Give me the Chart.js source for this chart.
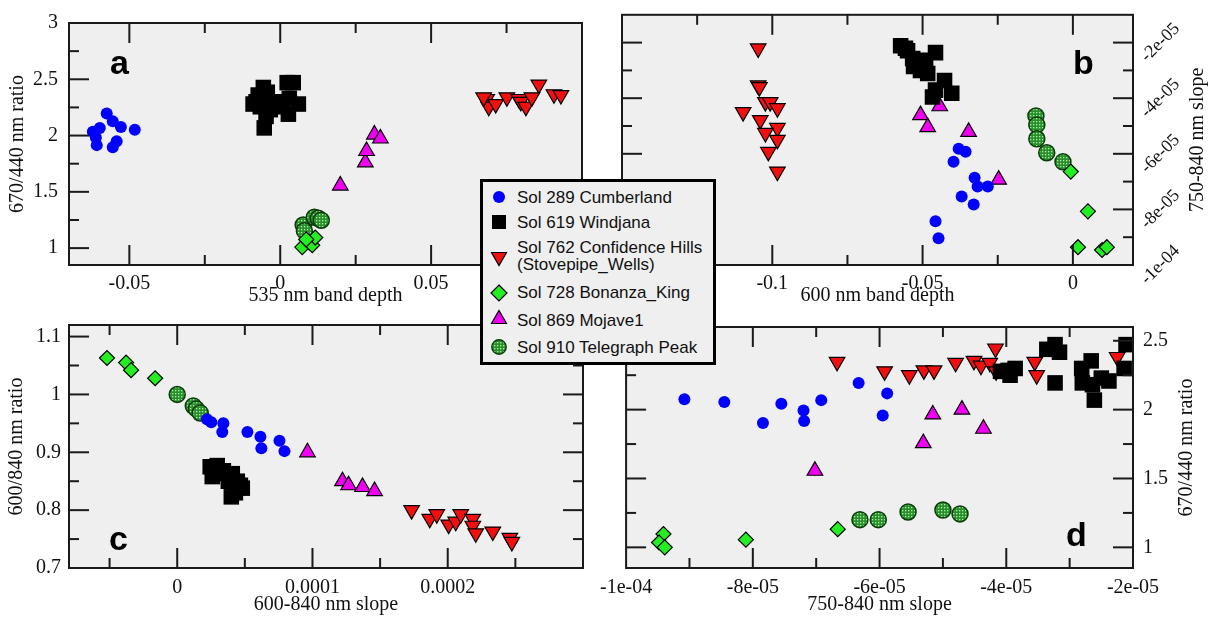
<!DOCTYPE html>
<html>
<head>
<meta charset="utf-8">
<script src="https://cdn.jsdelivr.net/npm/chart.js@4/dist/chart.umd.min.js"></script>
<style>
body { margin: 0; background: #fff; width: 1215px; height: 623px; position: relative; overflow: hidden; }
canvas { position: absolute; }
#legend { position: absolute; left: 480px; top: 179px; width: 230px; height: 180px; border: 3px solid #000;
  background: #efefef; z-index: 5; font-family: "Liberation Sans", Arial, sans-serif; font-size: 17px; color: #111; }
#legend .t { position: absolute; left: 34px; line-height: 17px; white-space: nowrap; }
#legend svg { position: absolute; left: 8px; }
</style>
</head>
<body>
<canvas id="ca" width="600" height="311" style="left:0;top:0"></canvas>
<canvas id="cb" width="615" height="311" style="left:600px;top:0"></canvas>
<canvas id="cc" width="600" height="314" style="left:0;top:305px"></canvas>
<canvas id="cd" width="623" height="314" style="left:592px;top:305px"></canvas>

<div id="legend">
  <svg width="16" height="16" style="top:7px"><circle cx="8" cy="8" r="6" fill="#0000ff"/></svg>
  <div class="t" style="top:7px">Sol 289 Cumberland</div>
  <svg width="16" height="16" style="top:32px"><rect x="1" y="1" width="14" height="14" fill="#000"/></svg>
  <div class="t" style="top:32px">Sol 619 Windjana</div>
  <svg width="18" height="18" style="top:68px;left:7px"><polygon points="1.5,2.5 16.5,2.5 9,15.5" fill="#f01010" stroke="#000" stroke-width="1.2"/></svg>
  <div class="t" style="top:57px">Sol 762 Confidence Hills</div>
  <div class="t" style="top:74px">(Stovepipe_Wells)</div>
  <svg width="18" height="18" style="top:102px;left:7px"><polygon points="9,1 17,9 9,17 1,9" fill="#22ee22" stroke="#000" stroke-width="1.2"/></svg>
  <div class="t" style="top:102px">Sol 728 Bonanza_King</div>
  <svg width="18" height="18" style="top:127px;left:7px"><polygon points="9,1.5 16.5,14.5 1.5,14.5" fill="#f000f0" stroke="#000" stroke-width="1.2"/></svg>
  <div class="t" style="top:130px">Sol 869 Mojave1</div>
  <svg width="18" height="18" style="top:156px;left:7px">
    <defs><pattern id="dots" width="3" height="3" patternUnits="userSpaceOnUse">
      <rect width="3" height="3" fill="#2a8f2a"/><rect x="1" y="1" width="1.3" height="1.3" fill="#a8f0a8"/></pattern></defs>
    <circle cx="9" cy="9" r="7.2" fill="url(#dots)" stroke="#0b3b0b" stroke-width="1.4"/></svg>
  <div class="t" style="top:157px">Sol 910 Telegraph Peak</div>
</div>

<script>
// panel a: 535 nm band depth vs 670/440 nm ratio
const aCumberland = [[-0.0575,2.197],[-0.0555,2.128],[-0.0528,2.077],[-0.0598,2.068],[-0.0621,2.034],[-0.0611,1.983],[-0.0608,1.915],[-0.0555,1.897],[-0.0542,1.949],[-0.0482,2.051]];
const aWindjana = [[-0.0056,2.427],[-0.0043,2.385],[0.0023,2.47],[0.0043,2.47],[-0.008,2.30],[-0.0066,2.256],[-0.0033,2.23],[0.0007,2.29],[0.006,2.28],[-0.0047,2.17],[-0.0053,2.068],[0.0027,2.19],[-0.0013,2.256],[-0.0073,2.36],[-0.002,2.30],[0.003,2.33],[-0.009,2.28]];
const aConfidence = [[0.0684,2.325],[0.0691,2.256],[0.0714,2.28],[0.0751,2.34],[0.0791,2.325],[0.0797,2.30],[0.0814,2.256],[0.0834,2.34],[0.0857,2.453],[0.0907,2.367],[0.093,2.36],[0.0674,2.34]];
const aBonanza = [[0.0073,1.009],[0.0096,1.051],[0.0106,1.026],[0.0116,1.094],[0.0086,1.077]];
const aMojave = [[0.0199,1.556],[0.0282,1.761],[0.0286,1.863],[0.0312,2.009],[0.0332,1.974]];
const aTelegraph = [[0.0076,1.205],[0.008,1.154],[0.0113,1.274],[0.0126,1.265],[0.0136,1.248]];

// panel b: 600 nm band depth vs 750-840 nm slope
const bCumberland = [[-0.038,-5.82e-5],[-0.0357,-5.93e-5],[-0.0397,-6.29e-5],[-0.0327,-6.86e-5],[-0.0317,-7.18e-5],[-0.0283,-7.18e-5],[-0.037,-7.54e-5],[-0.033,-7.82e-5],[-0.0457,-8.43e-5],[-0.0447,-9.04e-5]];
const bWindjana = [[-0.0573,-2.11e-5],[-0.055,-2.29e-5],[-0.0533,-2.57e-5],[-0.053,-2.86e-5],[-0.0507,-3.0e-5],[-0.0483,-3.11e-5],[-0.0457,-2.36e-5],[-0.0427,-3.36e-5],[-0.0403,-3.82e-5],[-0.0467,-3.96e-5],[-0.0457,-3.71e-5],[-0.0523,-2.71e-5],[-0.049,-2.64e-5],[-0.0557,-2.2e-5]];
const bConfidence = [[-0.1047,-2.21e-5],[-0.1047,-3.54e-5],[-0.1023,-4.14e-5],[-0.1007,-4.14e-5],[-0.1097,-4.5e-5],[-0.0983,-4.36e-5],[-0.104,-4.79e-5],[-0.0983,-5.07e-5],[-0.1023,-5.25e-5],[-0.0983,-5.5e-5],[-0.1013,-5.93e-5],[-0.0983,-6.64e-5],[-0.1043,-3.6e-5]];
const bBonanza = [[-0.0007,-6.64e-5],[0.005,-8.07e-5],[0.0017,-9.36e-5],[0.0097,-9.46e-5],[0.0113,-9.36e-5]];
const bMojave = [[-0.0507,-4.61e-5],[-0.0483,-5.04e-5],[-0.0443,-4.29e-5],[-0.0347,-5.21e-5],[-0.0247,-6.93e-5]];
const bTelegraph = [[-0.0123,-4.64e-5],[-0.012,-4.96e-5],[-0.012,-5.46e-5],[-0.0087,-5.96e-5],[-0.0033,-6.29e-5]];

// panel c: 600-840 nm slope vs 600/840 nm ratio
const cCumberland = [[2.52e-5,0.952],[3.41e-5,0.95],[3.33e-5,0.935],[5.19e-5,0.935],[6.15e-5,0.927],[6.22e-5,0.907],[7.56e-5,0.92],[7.93e-5,0.902],[2.2e-5,0.957]];
const cWindjana = [[2.44e-5,0.875],[2.96e-5,0.877],[2.59e-5,0.858],[3.41e-5,0.868],[4.07e-5,0.863],[4.44e-5,0.85],[3.78e-5,0.85],[4.67e-5,0.843],[4.3e-5,0.83],[3.11e-5,0.863],[2.74e-5,0.866],[4.81e-5,0.838],[4.0e-5,0.823]];
const cConfidence = [[1.733e-4,0.8],[1.867e-4,0.785],[1.919e-4,0.793],[2.007e-4,0.775],[2.059e-4,0.78],[2.096e-4,0.793],[2.185e-4,0.785],[2.185e-4,0.773],[2.207e-4,0.76],[2.333e-4,0.763],[2.459e-4,0.752],[2.474e-4,0.745]];
const cBonanza = [[-5.19e-5,1.063],[-3.78e-5,1.055],[-3.41e-5,1.042],[-1.63e-5,1.028]];
const cMojave = [[9.63e-5,0.9],[1.222e-4,0.85],[1.267e-4,0.843],[1.37e-4,0.84],[1.459e-4,0.833]];
const cTelegraph = [[0,1.0],[1.19e-5,0.98],[1.41e-5,0.975],[1.7e-5,0.968]];

// panel d: 750-840 nm slope vs 670/440 nm ratio
const dCumberland = [[-9.08e-5,2.076],[-8.45e-5,2.056],[-7.84e-5,1.903],[-7.55e-5,2.042],[-7.2e-5,1.993],[-7.19e-5,1.917],[-6.92e-5,2.069],[-6.33e-5,2.194],[-5.88e-5,2.118],[-5.95e-5,1.958]];
const dWindjana = [[-3.36e-5,2.438],[-3.23e-5,2.472],[-3.16e-5,2.417],[-3.97e-5,2.285],[-3.86e-5,2.299],[-4.09e-5,2.278],[-3.94e-5,2.25],[-3.23e-5,2.194],[-2.81e-5,2.299],[-2.66e-5,2.354],[-2.8e-5,2.194],[-2.64e-5,2.181],[-2.5e-5,2.229],[-2.38e-5,2.208],[-2.61e-5,2.069],[-2.14e-5,2.299],[-2.11e-5,2.472]];
const dConfidence = [[-6.67e-5,2.347],[-5.92e-5,2.278],[-5.53e-5,2.25],[-5.3e-5,2.285],[-5.14e-5,2.285],[-4.8e-5,2.34],[-4.51e-5,2.354],[-4.4e-5,2.319],[-4.26e-5,2.34],[-4.17e-5,2.444],[-4.16e-5,2.278],[-3.55e-5,2.347],[-3.52e-5,2.25],[-2.25e-5,2.382]];
const dBonanza = [[-9.41e-5,1.097],[-9.48e-5,1.035],[-9.39e-5,1.0],[-8.11e-5,1.056],[-6.66e-5,1.132]];
const dMojave = [[-7.02e-5,1.556],[-5.31e-5,1.757],[-5.16e-5,1.965],[-4.7e-5,2.0],[-4.36e-5,1.861]];
const dTelegraph = [[-6.31e-5,1.201],[-6.02e-5,1.201],[-5.55e-5,1.257],[-5.0e-5,1.271],[-4.73e-5,1.243]];

// tick values and labels
const aXTicks = [-0.05, 0, 0.05];
const aXLabels = ['-0.05', '0', '0.05'];
const aYTicks = [1, 1.5, 2, 2.5, 3];
const aYLabels = ['1', '1.5', '2', '2.5', '3'];
const bXTicks = [-0.1, -0.05, 0];
const bXLabels = ['-0.1', '-0.05', '0'];
const bYTicks = [-1e-4, -8e-5, -6e-5, -4e-5, -2e-5];
const bYLabels = ['-1e-04', '-8e-05', '-6e-05', '-4e-05', '-2e-05'];
const cXTicks = [0, 1e-4, 2e-4];
const cXLabels = ['0', '0.0001', '0.0002'];
const cYTicks = [0.7, 0.8, 0.9, 1, 1.1];
const cYLabels = ['0.7', '0.8', '0.9', '1', '1.1'];
const dXTicks = [-1e-4, -8e-5, -6e-5, -4e-5, -2e-5];
const dXLabels = ['-1e-04', '-8e-05', '-6e-05', '-4e-05', '-2e-05'];
const dYTicks = [1, 1.5, 2, 2.5];
const dYLabels = ['1', '1.5', '2', '2.5'];

const seriesNames = ['Sol 289 Cumberland', 'Sol 619 Windjana', 'Sol 762 Confidence Hills (Stovepipe_Wells)',
  'Sol 728 Bonanza_King', 'Sol 869 Mojave1', 'Sol 910 Telegraph Peak'];

const SERIF = '"Liberation Serif", "Times New Roman", serif';
const SANS = '"Liberation Sans", Arial, sans-serif';

// dotted green fill for Telegraph Peak
const tile = document.createElement('canvas');
tile.width = 3; tile.height = 3;
const tctx = tile.getContext('2d');
tctx.fillStyle = '#2a8f2a'; tctx.fillRect(0, 0, 3, 3);
tctx.fillStyle = '#a8f0a8'; tctx.fillRect(1, 1, 1.3, 1.3);
const dotted = tctx.createPattern(tile, 'repeat');

const styles = [
  { pointStyle: 'circle', pointRadius: 6, pointBackgroundColor: '#0000ff', pointBorderColor: '#0000ff', pointBorderWidth: 0 },
  { pointStyle: 'rect', pointRadius: 11, pointBackgroundColor: '#000', pointBorderColor: '#000', pointBorderWidth: 0 },
  { pointStyle: 'triangle', pointRotation: 180, pointRadius: 9, pointBackgroundColor: '#f01010', pointBorderColor: '#000', pointBorderWidth: 1.2 },
  { pointStyle: 'rectRot', pointRadius: 7.5, pointBackgroundColor: '#22ee22', pointBorderColor: '#000', pointBorderWidth: 1.2 },
  { pointStyle: 'triangle', pointRadius: 9, pointBackgroundColor: '#f000f0', pointBorderColor: '#000', pointBorderWidth: 1.2 },
  { pointStyle: 'circle', pointRadius: 8, pointBackgroundColor: dotted, pointBorderColor: '#0b3b0b', pointBorderWidth: 1.5 }
];

function makeSets(list) {
  return list.map((pts, i) => Object.assign({
    label: seriesNames[i],
    data: pts.map(p => ({ x: p[0], y: p[1] })),
    pointHoverRadius: styles[i].pointRadius
  }, styles[i]));
}

function minorsOf(major, min, max) {
  const step = major[1] - major[0];
  const out = [];
  for (let v = major[0] - step / 2; v < max - step * 1e-6; v += step) {
    if (v > min + step * 1e-6) out.push(v);
  }
  return out;
}

const framePlugin = {
  id: 'frame',
  beforeDatasetsDraw(chart) {
    const { ctx, chartArea: a } = chart;
    ctx.save();
    ctx.fillStyle = '#efefef';
    ctx.fillRect(a.left, a.top, a.right - a.left, a.bottom - a.top);
    ctx.restore();
  },
  afterDatasetsDraw(chart, args, opts) {
    const { ctx, chartArea: a, scales } = chart;
    const xs = scales.x, ys = scales.y;
    ctx.save();
    ctx.strokeStyle = '#1a1a1a';
    ctx.lineWidth = 2;
    const line = (x1, y1, x2, y2) => { ctx.beginPath(); ctx.moveTo(x1, y1); ctx.lineTo(x2, y2); ctx.stroke(); };
    const xMaj = opts.xTicks, yMaj = opts.yTicks;
    const xMin = minorsOf(xMaj, xs.min, xs.max), yMin = minorsOf(yMaj, ys.min, ys.max);
    const doX = (vals, len) => vals.forEach(v => {
      const p = xs.getPixelForValue(v);
      if (p <= a.left + 1 || p >= a.right - 1) return;
      line(p, a.bottom, p, a.bottom - len);
      line(p, a.top, p, a.top + len);
    });
    const doY = (vals, len) => vals.forEach(v => {
      const p = ys.getPixelForValue(v);
      if (p <= a.top + 1 || p >= a.bottom - 1) return;
      if (opts.yLeft) line(a.left, p, a.left + len, p);
      if (opts.yRight) line(a.right, p, a.right - len, p);
    });
    doX(xMaj, 20); doX(xMin, 10);
    doY(yMaj, 20); doY(yMin, 10);
    ctx.strokeRect(a.left, a.top, a.right - a.left, a.bottom - a.top);

    ctx.fillStyle = '#000';
    ctx.font = 'bold 34px ' + SANS;
    ctx.textAlign = 'left';
    ctx.textBaseline = 'alphabetic';
    ctx.fillText(opts.letter, a.left + opts.letterDx, a.top + opts.letterDy);

    if (opts.rightTitle) {
      ctx.fillStyle = '#111';
      ctx.font = '20px ' + SERIF;
      ctx.translate(a.right + opts.rightTitleDx, (a.top + a.bottom) / 2);
      ctx.rotate(-Math.PI / 2);
      ctx.textAlign = 'center';
      ctx.fillText(opts.rightTitle, 0, 0);
    }
    ctx.restore();
  }
};

function makeChart(id, sets, c) {
  const tickFont = { family: SERIF, size: 20 };
  return new Chart(document.getElementById(id), {
    type: 'scatter',
    data: { datasets: makeSets(sets) },
    plugins: [framePlugin],
    options: {
      responsive: false,
      animation: false,
      layout: { padding: c.padding },
      plugins: {
        legend: { display: false },
        tooltip: { enabled: false },
        frame: c.frame
      },
      scales: {
        x: {
          type: 'linear', position: 'bottom', min: c.xMin, max: c.xMax,
          grid: { display: false, drawTicks: false },
          border: { display: false },
          afterBuildTicks: s => { s.ticks = c.frame.xTicks.map(v => ({ value: v })); },
          afterFit: s => { s.height = c.xHeight; },
          ticks: { autoSkip: false, maxRotation: 0, padding: c.xPad, color: '#111', font: tickFont,
            callback: (v, i) => c.xLabels[i] },
          title: { display: true, text: c.xTitle, color: '#111', font: { family: SERIF, size: 20 },
            padding: { top: 0, bottom: c.xTitlePad } }
        },
        y: {
          type: 'linear', position: c.yPos, min: c.yMin, max: c.yMax,
          grid: { display: false, drawTicks: false },
          border: { display: false },
          afterBuildTicks: s => { s.ticks = c.frame.yTicks.map(v => ({ value: v })); },
          afterFit: s => { s.width = c.yWidth; },
          ticks: Object.assign({ autoSkip: false, padding: c.yPad, color: '#111', font: tickFont,
            callback: (v, i) => c.yLabels[i] }, c.yTickExtra || {}),
          title: { display: !!c.yTitle, text: c.yTitle || '', color: '#111', font: { family: SERIF, size: 20 },
            padding: { top: c.yTitlePad || 0, bottom: 0 } }
        }
      }
    }
  });
}

makeChart('ca', [aCumberland, aWindjana, aConfidence, aBonanza, aMojave, aTelegraph], {
  padding: { left: 0, top: 13, right: 18, bottom: 0 },
  xMin: -0.07, xMax: 0.1, yMin: 0.85, yMax: 3,
  xHeight: 46, xPad: 7, xTitlePad: 3, xTitle: '535 nm band depth', xLabels: aXLabels,
  yPos: 'left', yWidth: 69, yPad: 11, yTitle: '670/440 nm ratio', yTitlePad: 6, yLabels: aYLabels,
  frame: { xTicks: aXTicks, yTicks: aYTicks, yLeft: true, yRight: false, letter: 'a', letterDx: 41, letterDy: 51 }
});

makeChart('cb', [bCumberland, bWindjana, bConfidence, bBonanza, bMojave, bTelegraph], {
  padding: { left: 22, top: 13, right: 0, bottom: 0 },
  xMin: -0.15, xMax: 0.02, yMin: -1e-4, yMax: -1e-5,
  xHeight: 46, xPad: 7, xTitlePad: 3, xTitle: '600 nm band depth', xLabels: bXLabels,
  yPos: 'right', yWidth: 82, yPad: 4, yLabels: bYLabels,
  yTickExtra: { minRotation: 45, maxRotation: 45, crossAlign: 'center', font: { family: SERIF, size: 18 } },
  frame: { xTicks: bXTicks, yTicks: bYTicks, yLeft: true, yRight: true, letter: 'b', letterDx: 451, letterDy: 59,
    rightTitle: '750-840 nm slope', rightTitleDx: 70 }
});

makeChart('cc', [cCumberland, cWindjana, cConfidence, cBonanza, cMojave, cTelegraph], {
  padding: { left: 0, top: 11, right: 17, bottom: 0 },
  xMin: -8e-5, xMax: 3e-4, yMin: 0.7, yMax: 1.12,
  xHeight: 51, xPad: 8, xTitlePad: 2, xTitle: '600-840 nm slope', xLabels: cXLabels,
  yPos: 'left', yWidth: 69, yPad: 8, yTitle: '600/840 nm ratio', yTitlePad: 5, yLabels: cYLabels,
  frame: { xTicks: cXTicks, yTicks: cYTicks, yLeft: true, yRight: true, letter: 'c', letterDx: 40, letterDy: 225 }
});

makeChart('cd', [dCumberland, dWindjana, dConfidence, dBonanza, dMojave, dTelegraph], {
  padding: { left: 30, top: 11, right: 0, bottom: 0 },
  xMin: -1e-4, xMax: -2e-5, yMin: 0.85, yMax: 2.6,
  xHeight: 51, xPad: 8, xTitlePad: 2, xTitle: '750-840 nm slope', xLabels: dXLabels,
  yPos: 'right', yWidth: 82, yPad: 10, yLabels: dYLabels,
  frame: { xTicks: dXTicks, yTicks: dYTicks, yLeft: true, yRight: true, letter: 'd', letterDx: 440, letterDy: 219,
    rightTitle: '670/440 nm ratio', rightTitleDx: 59 }
});
</script>
</body>
</html>
